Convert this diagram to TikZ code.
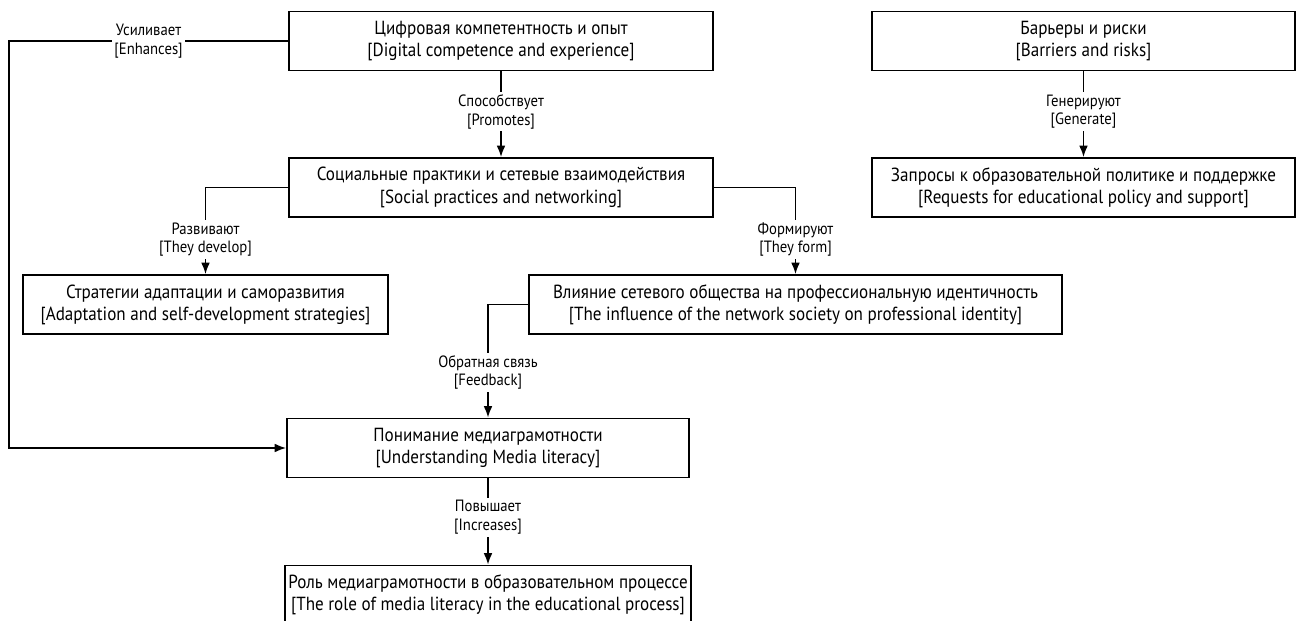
\documentclass[tikz,border=0pt]{standalone}
\usepackage{fontspec}
\setmainfont[FakeStretch=0.9]{PT Sans}
\usetikzlibrary{arrows, arrows.meta, positioning, calc}

\tikzset{
    box/.style={draw, line width=1pt, minimum height=1.18cm, align=center,
                inner sep=2pt, font=\fontsize{10.8}{12.6}\selectfont},
    lbl/.style={fill=white, align=center, inner sep=1.5pt,
                font=\fontsize{9.3}{10.6}\selectfont},
    link/.style={draw, line width=1pt, -{Latex[length=6.5pt, width=5pt]}},
}

\begin{document}
\begin{tikzpicture}
    \useasboundingbox (0,0) rectangle (25.92,-12.42);

    % boxes
    \node[box, minimum width=8.48cm] (dig) at (10.02,-0.82) {Цифровая компетентность и опыт\\{[Digital competence and experience]}};
    \node[box, minimum width=8.46cm] (bar) at (21.67,-0.82) {Барьеры и риски\\{[Barriers and risks]}};
    \node[box, minimum width=8.46cm] (req) at (21.67,-3.75) {Запросы к образовательной политике и поддержке\\{[Requests for educational policy and support]}};
    \node[box, minimum width=8.48cm] (soc) at (10.02,-3.75) {Социальные практики и сетевые взаимодействия\\{[Social practices and networking]}};
    \node[box, minimum width=7.30cm] (ada) at (4.11,-6.09) {Стратегии адаптации и саморазвития\\{[Adaptation and self-development strategies]}};
    \node[box, minimum width=10.66cm] (inf) at (15.91,-6.09) {Влияние сетевого общества на профессиональную идентичность\\{[The influence of the network society on professional identity]}};
    \node[box, minimum width=8.04cm] (und) at (9.76,-8.96) {Понимание медиаграмотности\\{[Understanding Media literacy]}};
    \node[box, minimum width=8.04cm] (rol) at (9.76,-11.90) {Роль медиаграмотности в образовательном процессе\\{[The role of media literacy in the educational process]}};

    % connectors
    \coordinate (leftbend) at (0.18,-0.82);
    \draw[link] (dig.west) -- node[lbl] {Усиливает\\{[Enhances]}} (leftbend) |- (und.west);
    \draw[link] (dig.south) -- node[lbl, pos=0.47] {Способствует\\{[Promotes]}} (soc.north);
    \draw[link] (bar.south) -- node[lbl, pos=0.47] {Генерируют\\{[Generate]}} (req.north);
    \draw[link] (soc.west) -| node[lbl, pos=0.8] {Развивают\\{[They develop]}} (ada.north);
    \draw[link] (soc.east) -| node[lbl, pos=0.8] {Формируют\\{[They form]}} (inf.north);
    \draw[link] (inf.west) -| node[lbl, pos=0.8] {Обратная связь\\{[Feedback]}} (und.north);
    \draw[link] (und.south) -- node[lbl, pos=0.45] {Повышает\\{[Increases]}} (rol.north);
\end{tikzpicture}
\end{document}
